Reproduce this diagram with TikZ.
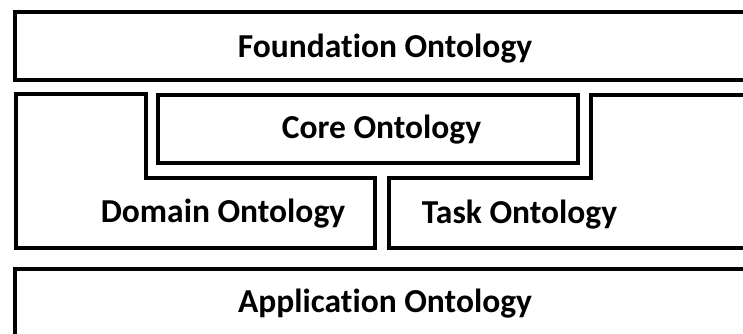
\documentclass[tikz,border=0pt]{standalone}
\usepackage{fontspec}
\setmainfont{Carlito}[Ligatures={NoCommon,NoContextual}]
\begin{document}
\begin{tikzpicture}[x=1pt,y=-1pt,
  box/.style={draw=black,line width=4pt,line join=miter},
  lbl/.style={anchor=base,inner sep=0pt,font=\bfseries\fontsize{33.5}{40}\selectfont}]
\useasboundingbox (0,0) rectangle (743,333);
\clip (0,0) rectangle (743,333);
% boxes
\draw[box] (15,12) rectangle (770,80);
\draw[box] (16,94) -- (146,94) -- (146,178) -- (375,178) -- (375,248) -- (16,248) -- cycle;
\draw[box] (158,95) rectangle (578,163);
\draw[box] (770,248) -- (389,248) -- (389,178) -- (591,178) -- (591,95) -- (770,95);
\draw[box] (15,269) rectangle (770,360);
% labels
\node[lbl] (found) at (385,57) {Foundation Ontology};
\node[lbl] (core) at (381.5,138) {Core Ontology};
\node[lbl] (domain) at (223,222) {Domain Ontology};
\node[lbl] (task) at (519.5,223) {Task Ontology};
\node[lbl] (app) at (385,312) {Application Ontology};
\end{tikzpicture}
\end{document}
